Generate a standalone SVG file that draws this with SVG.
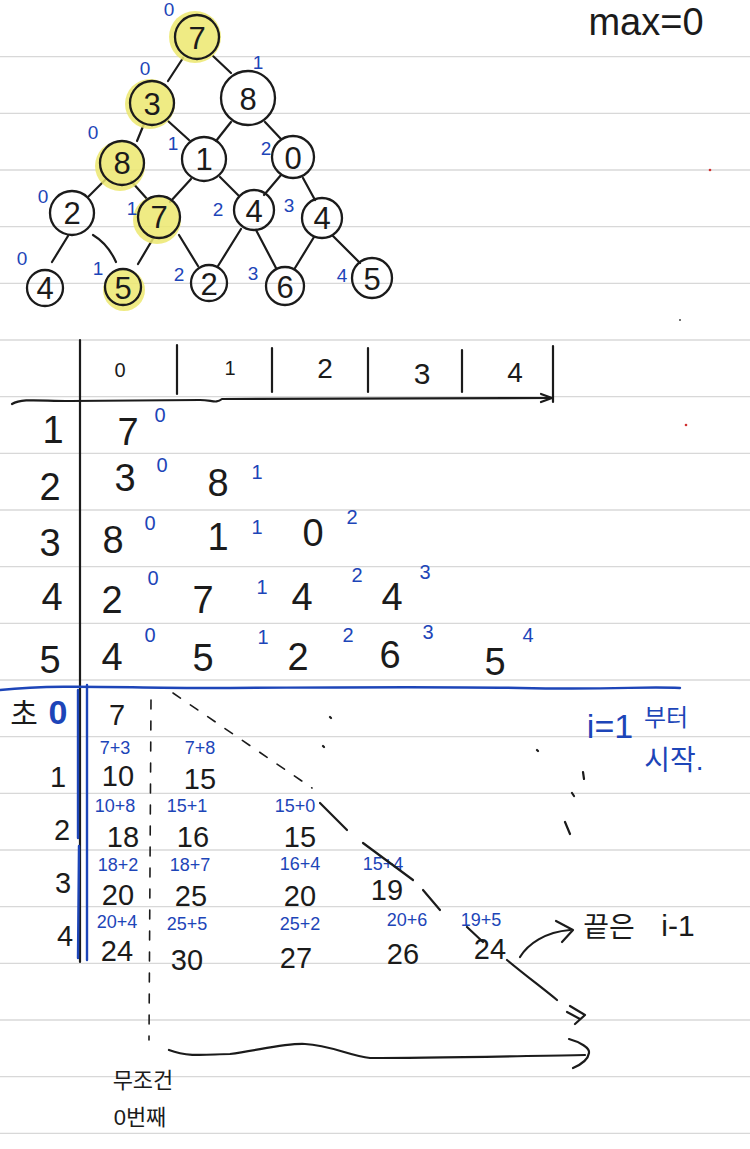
<svg xmlns="http://www.w3.org/2000/svg" width="750" height="1149" viewBox="0 0 750 1149">
<style>
.rule{stroke:#d8d8d8;stroke-width:1.3}
.ink{fill:none;stroke:#1b1b1b;stroke-width:2.2;stroke-linecap:round;stroke-linejoin:round}
.blu{fill:none;stroke:#1d45b8;stroke-width:2.4;stroke-linecap:round;stroke-linejoin:round}
.node{fill:none;stroke:#1b1b1b;stroke-width:2.3}
.hl{fill:#ece86f;opacity:0.85}
text{font-family:"Liberation Sans","Noto Sans CJK KR",sans-serif;text-anchor:middle;dominant-baseline:central}
.k{fill:#1b1b1b}
.b{fill:#1d45b8}
.nv{font-size:31px;fill:#1b1b1b}
.ix{font-size:19px;fill:#1d45b8}
.tv{font-size:38px;fill:#1b1b1b}
.sup{font-size:20px;fill:#1d45b8}
.sum{font-size:18px;fill:#1d45b8}
.res{font-size:29px;fill:#1b1b1b}
.dash{fill:none;stroke:#1b1b1b;stroke-width:1.6;stroke-dasharray:9 12;stroke-linecap:round}
</style>

<!-- ruled paper -->
<g id="paper">
<rect width="750" height="1149" fill="#ffffff"/>
<line class="rule" x1="0" y1="56.7" x2="750" y2="56.7"/>
<line class="rule" x1="0" y1="113.3" x2="750" y2="113.3"/>
<line class="rule" x1="0" y1="170" x2="750" y2="170"/>
<line class="rule" x1="0" y1="226.7" x2="750" y2="226.7"/>
<line class="rule" x1="0" y1="283.3" x2="750" y2="283.3"/>
<line class="rule" x1="0" y1="340" x2="750" y2="340"/>
<line class="rule" x1="0" y1="396.7" x2="750" y2="396.7"/>
<line class="rule" x1="0" y1="453.3" x2="750" y2="453.3"/>
<line class="rule" x1="0" y1="510" x2="750" y2="510"/>
<line class="rule" x1="0" y1="566.7" x2="750" y2="566.7"/>
<line class="rule" x1="0" y1="623.3" x2="750" y2="623.3"/>
<line class="rule" x1="0" y1="680" x2="750" y2="680"/>
<line class="rule" x1="0" y1="736.7" x2="750" y2="736.7"/>
<line class="rule" x1="0" y1="793.3" x2="750" y2="793.3"/>
<line class="rule" x1="0" y1="850" x2="750" y2="850"/>
<line class="rule" x1="0" y1="906.7" x2="750" y2="906.7"/>
<line class="rule" x1="0" y1="963.3" x2="750" y2="963.3"/>
<line class="rule" x1="0" y1="1020" x2="750" y2="1020"/>
<line class="rule" x1="0" y1="1076.7" x2="750" y2="1076.7"/>
<line class="rule" x1="0" y1="1133.3" x2="750" y2="1133.3"/>
<circle cx="710" cy="170" r="1.3" fill="#d03030"/>
<circle cx="686" cy="425" r="1.3" fill="#d03030"/>
<circle cx="680" cy="320" r="1" fill="#444"/>
</g>

<text x="646" y="22" font-size="38" class="k">max=0</text>

<!-- triangle edges -->
<g id="connectors">
<line class="ink" x1="183" y1="58" x2="168" y2="81"/>
<line class="ink" x1="213" y1="56" x2="231" y2="73"/>
<line class="ink" x1="144" y1="124" x2="137" y2="141"/>
<line class="ink" x1="168" y1="121" x2="189" y2="140"/>
<line class="ink" x1="231" y1="122" x2="216" y2="141"/>
<line class="ink" x1="265" y1="122" x2="281" y2="139"/>
<line class="ink" x1="105" y1="180" x2="88" y2="197"/>
<line class="ink" x1="131" y1="181" x2="148" y2="200"/>
<line class="ink" x1="191" y1="179" x2="170" y2="202"/>
<line class="ink" x1="220" y1="177" x2="239" y2="196"/>
<line class="ink" x1="281" y1="175" x2="264" y2="195"/>
<line class="ink" x1="303" y1="178" x2="315" y2="200"/>
<line class="ink" x1="68" y1="236" x2="52" y2="262"/>
<path class="ink" d="M93,235 Q108,244 116,262"/>
<line class="ink" x1="154" y1="237" x2="138" y2="264"/>
<line class="ink" x1="179" y1="235" x2="198" y2="266"/>
<line class="ink" x1="241" y1="229" x2="218" y2="266"/>
<line class="ink" x1="256" y1="230" x2="276" y2="268"/>
<line class="ink" x1="314" y1="237" x2="295" y2="268"/>
<line class="ink" x1="333" y1="236" x2="360" y2="263"/>
</g>

<!-- triangle nodes -->
<g id="n-1-0"><circle class="hl" cx="195" cy="37" r="26"/><circle class="node" cx="197" cy="37" r="22"/><text class="nv" x="197" y="38">7</text><text class="ix" x="169" y="9">0</text></g>
<g id="n-2-0"><circle class="hl" cx="150" cy="104" r="25"/><circle class="node" cx="152" cy="103" r="22"/><text class="nv" x="152" y="104">3</text><text class="ix" x="145" y="68">0</text></g>
<g id="n-2-1"><circle class="node" cx="248" cy="98" r="27"/><text class="nv" x="248" y="99" font-size="36">8</text><text class="ix" x="258" y="62">1</text></g>
<g id="n-3-0"><circle class="hl" cx="120" cy="166" r="25"/><circle class="node" cx="122" cy="163" r="22"/><text class="nv" x="122" y="163">8</text><text class="ix" x="93" y="132">0</text></g>
<g id="n-3-1"><circle class="node" cx="204" cy="159" r="22"/><text class="nv" x="204" y="159">1</text><text class="ix" x="173" y="143">1</text></g>
<g id="n-3-2"><circle class="node" cx="293" cy="157" r="21"/><text class="nv" x="293" y="158">0</text><text class="ix" x="266" y="148">2</text></g>
<g id="n-4-0"><circle class="node" cx="72" cy="213" r="22"/><text class="nv" x="72" y="213">2</text><text class="ix" x="43" y="196">0</text></g>
<g id="n-4-1"><circle class="hl" cx="157" cy="220" r="24"/><circle class="node" cx="159" cy="217" r="21"/><text class="nv" x="159" y="217">7</text><text class="ix" x="132" y="208">1</text></g>
<g id="n-4-2"><circle class="node" cx="254" cy="210" r="20"/><text class="nv" x="254" y="211">4</text><text class="ix" x="218" y="209">2</text></g>
<g id="n-4-3"><circle class="node" cx="322" cy="218" r="20"/><text class="nv" x="322" y="218">4</text><text class="ix" x="289" y="205">3</text></g>
<g id="n-5-0"><circle class="node" cx="45" cy="288" r="18"/><text class="nv" x="45" y="288" font-size="28">4</text><text class="ix" x="22" y="258">0</text></g>
<g id="n-5-1"><circle class="hl" cx="124" cy="290" r="21"/><circle class="node" cx="123" cy="287" r="18"/><text class="nv" x="123" y="288" font-size="28">5</text><text class="ix" x="98" y="268">1</text></g>
<g id="n-5-2"><circle class="node" cx="209" cy="283" r="18"/><text class="nv" x="209" y="284" font-size="28">2</text><text class="ix" x="179" y="274">2</text></g>
<g id="n-5-3"><circle class="node" cx="285" cy="286" r="19"/><text class="nv" x="285" y="287" font-size="28">6</text><text class="ix" x="253" y="273">3</text></g>
<g id="n-5-4"><circle class="node" cx="372" cy="278" r="20"/><text class="nv" x="372" y="279" font-size="30">5</text><text class="ix" x="342" y="275">4</text></g>

<!-- table -->
<g id="table">
<line class="ink" x1="80" y1="340" x2="80" y2="962"/>
<path class="ink" d="M12,404 C22,398 40,401 70,401 L200,400 C212,400 216,404 222,399 L552,398"/>
<path class="ink" d="M541,394 L552,398 L541,402"/>
<line class="ink" x1="177" y1="345" x2="177" y2="394"/>
<line class="ink" x1="272" y1="348" x2="272" y2="392"/>
<line class="ink" x1="368" y1="348" x2="368" y2="392"/>
<line class="ink" x1="462" y1="350" x2="462" y2="392"/>
<line class="ink" x1="553" y1="346" x2="553" y2="402"/>
<text class="k" x="120" y="370" font-size="20">0</text>
<text class="k" x="230" y="368" font-size="20">1</text>
<text class="k" x="325" y="368" font-size="28">2</text>
<text class="k" x="422" y="373" font-size="30">3</text>
<text class="k" x="515" y="372" font-size="28">4</text>

<text class="tv" x="53" y="430" font-size="26">1</text>
<text class="tv" x="50" y="487" font-size="32">2</text>
<text class="tv" x="50" y="543">3</text>
<text class="tv" x="52" y="597">4</text>
<text class="tv" x="50" y="660">5</text>

<text class="tv" x="128" y="432" font-size="42">7</text><text class="sup" x="160" y="415">0</text>
<text class="tv" x="125" y="478">3</text><text class="sup" x="162" y="465">0</text>
<text class="tv" x="218" y="483">8</text><text class="sup" x="257" y="472">1</text>
<text class="tv" x="113" y="540">8</text><text class="sup" x="150" y="523">0</text>
<text class="tv" x="218" y="537">1</text><text class="sup" x="257" y="527">1</text>
<text class="tv" x="313" y="533">0</text><text class="sup" x="352" y="517">2</text>
<text class="tv" x="112" y="600">2</text><text class="sup" x="153" y="578">0</text>
<text class="tv" x="203" y="600">7</text><text class="sup" x="262" y="587">1</text>
<text class="tv" x="302" y="597">4</text><text class="sup" x="357" y="575">2</text>
<text class="tv" x="392" y="597">4</text><text class="sup" x="425" y="572">3</text>
<text class="tv" x="112" y="657">4</text><text class="sup" x="150" y="635">0</text>
<text class="tv" x="203" y="658">5</text><text class="sup" x="263" y="637">1</text>
<text class="tv" x="298" y="657">2</text><text class="sup" x="348" y="635">2</text>
<text class="tv" x="390" y="655">6</text><text class="sup" x="428" y="632">3</text>
<text class="tv" x="495" y="662">5</text><text class="sup" x="528" y="635" font-size="24">4</text>
</g>

<!-- dp section -->
<g id="dp">
<path class="blu" d="M0,690 C60,684 120,688 200,688 S420,686 520,688 S640,686 680,688"/>
<line class="blu" x1="78" y1="690" x2="78" y2="838"/>
<line class="blu" x1="79" y1="846" x2="78" y2="958"/>
<line class="blu" x1="87" y1="685" x2="87" y2="960"/>

<text class="k" x="24" y="713" font-size="30">초</text>
<text class="b" x="58" y="712" font-size="34" font-weight="bold">0</text>
<text class="res" x="117" y="715" font-size="38">7</text>

<text class="res" x="58" y="777">1</text>
<text class="res" x="62" y="830">2</text>
<text class="res" x="63" y="883">3</text>
<text class="res" x="65" y="936">4</text>

<text class="sum" x="115" y="748">7+3</text>
<text class="sum" x="200" y="748">7+8</text>
<text class="res" x="118" y="776">10</text>
<text class="res" x="200" y="779">15</text>

<text class="sum" x="115" y="806">10+8</text>
<text class="sum" x="187" y="806">15+1</text>
<text class="sum" x="295" y="806">15+0</text>
<text class="res" x="123" y="837">18</text>
<text class="res" x="193" y="837">16</text>
<text class="res" x="300" y="837">15</text>

<text class="sum" x="118" y="865">18+2</text>
<text class="sum" x="190" y="865">18+7</text>
<text class="sum" x="300" y="864">16+4</text>
<text class="sum" x="383" y="864">15+4</text>
<text class="res" x="118" y="895">20</text>
<text class="res" x="191" y="896">25</text>
<text class="res" x="300" y="896">20</text>
<text class="res" x="387" y="890">19</text>

<text class="sum" x="117" y="922">20+4</text>
<text class="sum" x="187" y="924">25+5</text>
<text class="sum" x="300" y="924">25+2</text>
<text class="sum" x="407" y="920">20+6</text>
<text class="sum" x="481" y="920">19+5</text>
<text class="res" x="117" y="951">24</text>
<text class="res" x="187" y="960">30</text>
<text class="res" x="296" y="958">27</text>
<text class="res" x="403" y="954">26</text>
<text class="res" x="490" y="949">24</text>

<text class="b" x="610" y="726" font-size="34">i=1</text>
<text class="b" x="666" y="717" font-size="24">부터</text>
<text class="b" x="674" y="760" font-size="28">시작.</text>

<text class="k" x="609" y="927" font-size="28">끝은</text>
<text class="k" x="678" y="925" font-size="30">i-1</text>

<text class="k" x="143" y="1080" font-size="22">무조건</text>
<text class="k" x="140" y="1117" font-size="22">0번째</text>
</g>

<!-- arrows and guides -->
<g id="guides">
<line class="dash" x1="151" y1="700" x2="149" y2="1040"/>
<path class="dash" d="M173,693 L312,788"/>
<path class="ink" stroke-width="1.5" d="M320,803 L347,830 M363,843 L413,880 M423,890 L440,910"/>
<path class="ink" stroke-width="1.5" d="M467,927 L483,942 M507,960 C525,975 545,990 557,1000"/>
<path class="ink" stroke-width="1.8" d="M570,1006 L585,1015 L575,1024 M567,1012 L580,1019"/>
<path class="ink" stroke-width="1.4" d="M537,750 L538,751 M583,772 L584,779 M572,793 L574,796 M565,822 L570,834 M330,717 L331,718 M323,746 L324,747"/>
<path class="ink" d="M520,957 C528,944 545,932 570,930"/>
<path class="ink" d="M556,921 L573,930 L562,942"/>
<path class="ink" d="M169,1050 C190,1058 210,1054 230,1054 C260,1050 285,1043 305,1044 C330,1045 350,1056 370,1058 C430,1058 520,1056 585,1055"/>
<path class="ink" d="M569,1039 C580,1042 590,1048 589,1053 C588,1060 580,1065 573,1068"/>
</g>
</svg>
